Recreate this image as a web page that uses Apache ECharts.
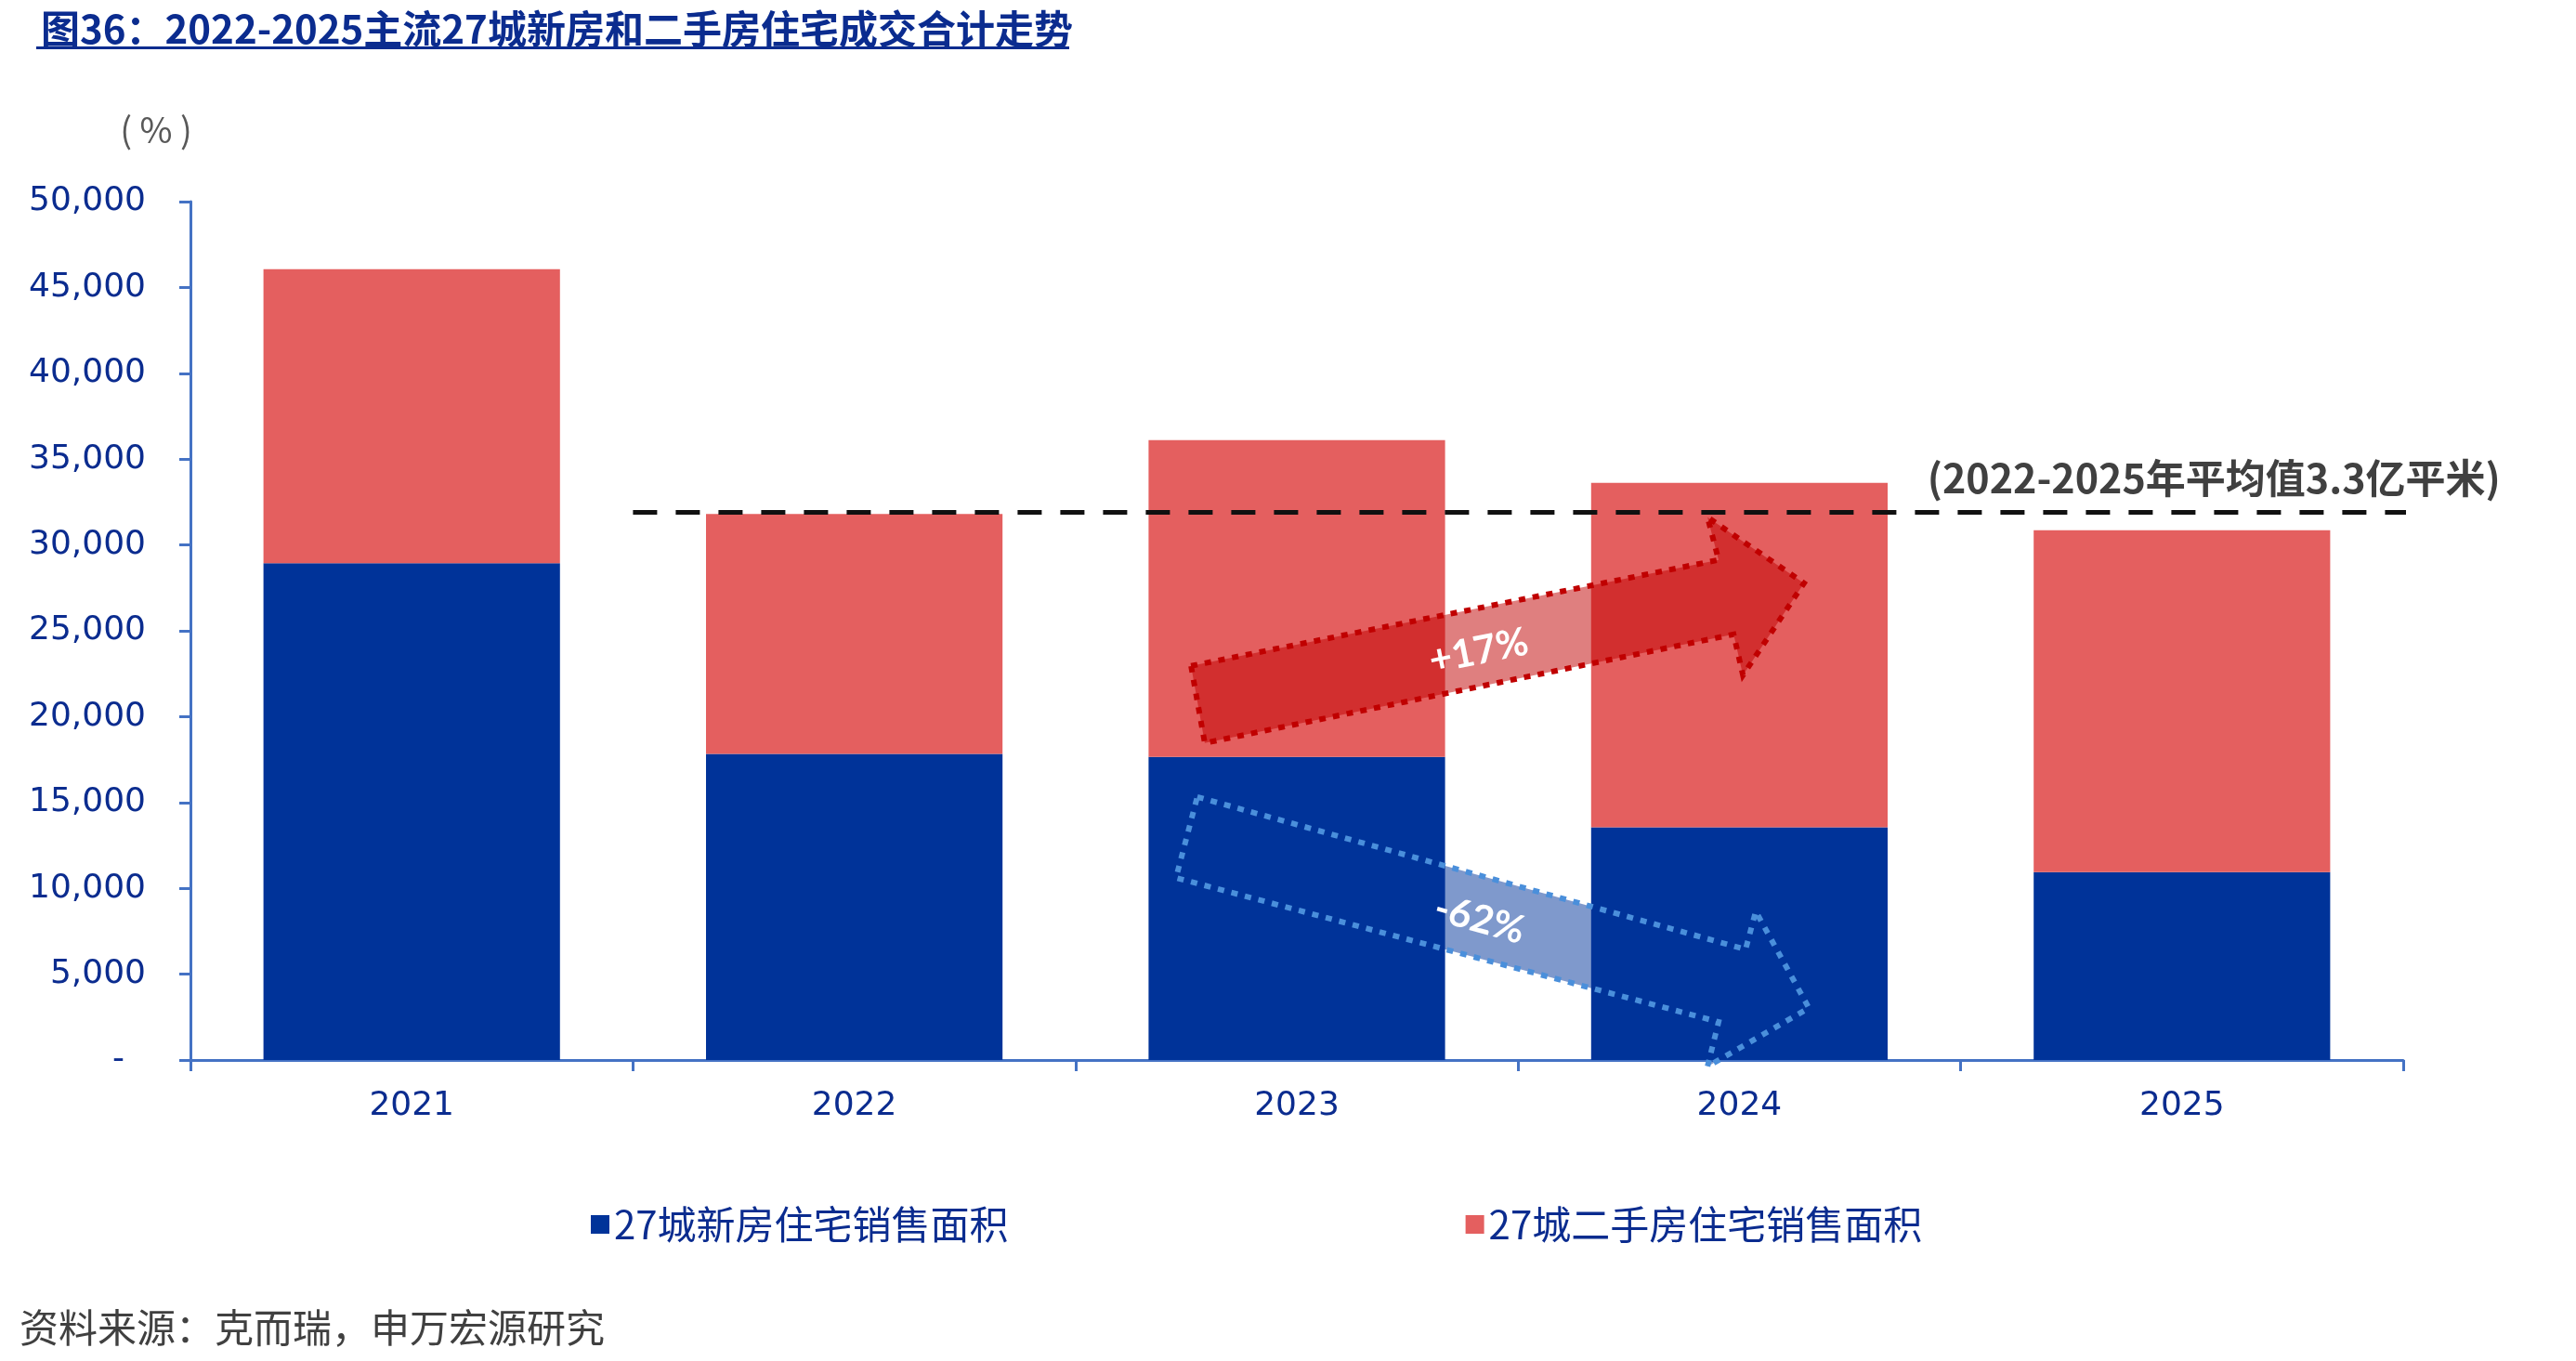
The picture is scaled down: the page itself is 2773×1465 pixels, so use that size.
<!DOCTYPE html>
<html><head><meta charset="utf-8">
<script src="https://cdn.jsdelivr.net/npm/echarts@6/dist/echarts.min.js"></script>
<style>html,body{margin:0;padding:0;background:#fff}#c{width:2773px;height:1465px}</style>
</head><body><div id="c"></div>
<script>
// ---- data ----
const years = ['2021', '2022', '2023', '2024', '2025'];
const newHome = [28930, 17830, 17650, 13550, 10940];      // 27城新房住宅销售面积
const secondHand = [17140, 13970, 18460, 20070, 19920];   // 27城二手房住宅销售面积
const seriesNames = ['27城新房住宅销售面积', '27城二手房住宅销售面积'];
const avgValue = 31900;          // dashed reference line
const avgSpan = [1, 5.03];       // in category-band units (hidden value axis 0..5)
const avgText = '(2022-2025年平均值3.3亿平米)';
const yMin = 0, yMax = 50000, yStep = 5000;

// annotation arrows, in (band units, value) coordinates
const upArrow = [[2.261, 22956], [3.453, 29128], [3.428, 31619], [3.646, 27775], [3.508, 22415], [3.487, 24797], [2.292, 18462]];
const upText = { pos: [2.911, 23800], text: '+17%' };
const downArrow = [[2.275, 15322], [3.514, 6443], [3.537, 8663], [3.657, 3032], [3.428, -379], [3.453, 2220], [2.227, 10612]];
const downText = { pos: [2.913, 8175], text: '-62%' };

const NAVY = '#0B2C8F';
const AXIS = '#4472C4';
const chart = echarts.init(document.getElementById('c'));
chart.setOption({
  animation: false,
  backgroundColor: '#fff',
  title: {
    text: '图36：2022-2025主流27城新房和二手房住宅成交合计走势',
    left: 39, top: 5,
    textStyle: { fontFamily: 'Noto Sans CJK SC', fontWeight: 'bold', fontSize: 42, color: NAVY }
  },
  grid: { left: 205, right: 186, top: 217, bottom: 324 },
  legend: {
    left: 631, top: 1292, itemGap: 492, itemWidth: 20, itemHeight: 20, icon: 'rect',
    data: seriesNames,
    textStyle: { fontFamily: 'Noto Sans CJK SC', fontSize: 42, color: NAVY }
  },
  xAxis: [{
    type: 'category', data: years,
    axisLine: { lineStyle: { color: AXIS, width: 3 } },
    axisTick: { show: true, length: 12, lineStyle: { color: AXIS, width: 3 } },
    axisLabel: { fontFamily: 'DejaVu Sans', fontSize: 36, color: NAVY, margin: 32 }
  }, {
    type: 'value', min: 0, max: 5, show: false
  }],
  yAxis: {
    type: 'value', min: yMin, max: yMax, interval: yStep,
    axisLine: { show: true, lineStyle: { color: AXIS, width: 3 } },
    axisTick: { show: true, length: 12, lineStyle: { color: AXIS, width: 3 } },
    splitLine: { show: false },
    axisLabel: {
      fontFamily: 'DejaVu Sans', fontSize: 36, color: NAVY, margin: 48,
      formatter: v => v === 0 ? '-  ' : v.toLocaleString('en-US')
    }
  },
  series: [
    { name: seriesNames[0], type: 'bar', stack: 'tot', data: newHome, barCategoryGap: '33%', itemStyle: { color: '#003399' } },
    { name: seriesNames[1], type: 'bar', stack: 'tot', data: secondHand, barCategoryGap: '33%', itemStyle: { color: '#E45F5F' } },
    { type: 'line', xAxisIndex: 1, yAxisIndex: 0, data: [[avgSpan[0], avgValue], [avgSpan[1], avgValue]],
      symbol: 'none', silent: true, z: 5, lineStyle: { color: '#111', width: 5, type: [26, 20] } }
  ]
});

function px(p) { return chart.convertToPixel({ seriesIndex: 2 }, p); }
const avgEnd = px([5.22, 33900]);
const g = [
  { type: 'rect', shape: { x: 39, y: 50, width: 1112, height: 3 }, style: { fill: NAVY } },
  { type: 'text', x: 168, y: 140, style: { text: '( % )', fontFamily: 'Noto Sans CJK SC', fontSize: 38, fill: '#595959', align: 'center', verticalAlign: 'middle' } },
  { type: 'text', x: 21, y: 1429, style: { text: '资料来源：克而瑞，申万宏源研究', fontFamily: 'Noto Sans CJK SC', fontSize: 42, fill: '#404040', align: 'left', verticalAlign: 'middle' } },
  { type: 'text', x: avgEnd[0], y: avgEnd[1], z: 10, style: { text: avgText, fontFamily: 'Noto Sans CJK SC', fontWeight: 'bold', fontSize: 43, fill: '#404040', align: 'right', verticalAlign: 'middle' } },
  { type: 'polygon', z: 20, shape: { points: upArrow.map(px) },
    style: { fill: 'rgba(192,0,0,0.5)', stroke: '#C00000', lineWidth: 6, lineDash: [7, 8] } },
  { type: 'polygon', z: 20, shape: { points: downArrow.map(px) },
    style: { fill: 'rgba(0,51,153,0.5)', stroke: '#4A8FDB', lineWidth: 6, lineDash: [7, 8] } }
];
const up = px(upText.pos), dn = px(downText.pos);
g.push({ type: 'text', z: 21, x: up[0], y: up[1], rotation: 0.2, style: { text: upText.text, fontFamily: 'Lato', fontWeight: 'bold', fontSize: 42, fill: '#fff', align: 'center', verticalAlign: 'middle' } });
g.push({ type: 'text', z: 21, x: dn[0], y: dn[1], rotation: -0.27, style: { text: downText.text, fontFamily: 'Lato', fontWeight: 'bold', fontSize: 42, fill: '#fff', align: 'center', verticalAlign: 'middle' } });
chart.setOption({ graphic: g });
</script>
</body></html>
